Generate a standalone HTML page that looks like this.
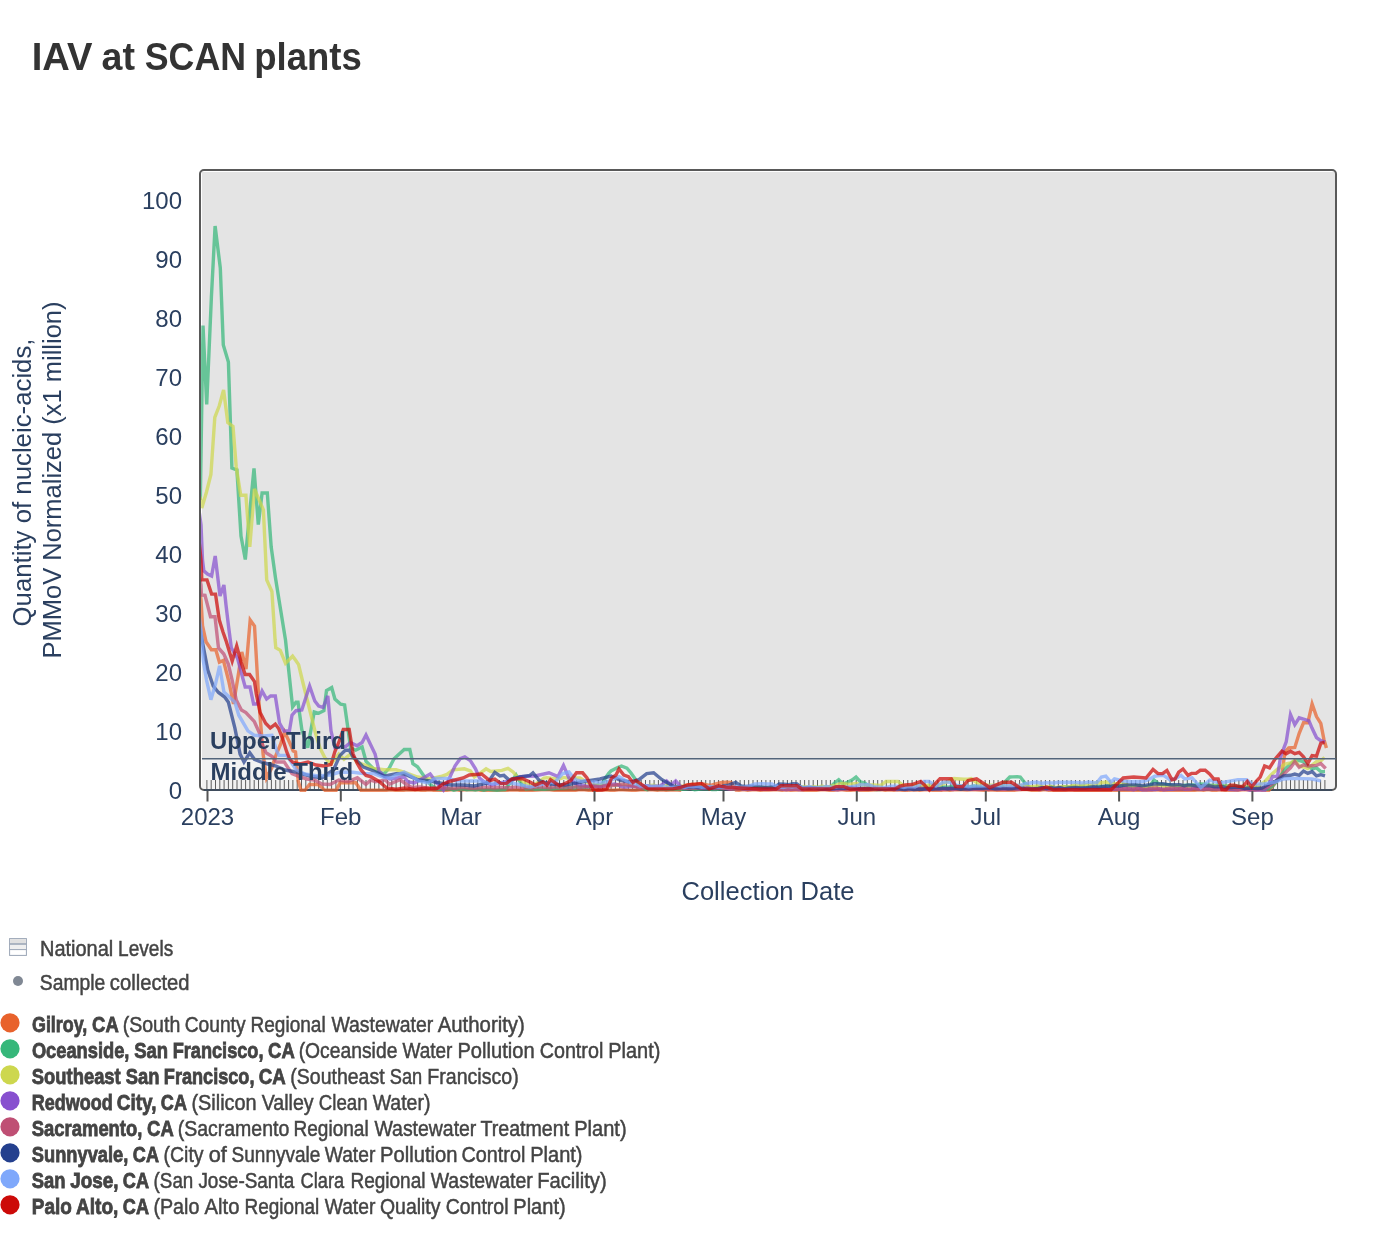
<!DOCTYPE html>
<html lang="en"><head><meta charset="utf-8"><title>IAV at SCAN plants</title>
<style>
html,body{margin:0;padding:0;background:#fff;}
body{width:1376px;height:1234px;overflow:hidden;position:relative;font-family:"Liberation Sans", sans-serif;}
svg{position:absolute;left:0;top:0;display:block;will-change:transform;}
text{font-family:"Liberation Sans", sans-serif;}
.tk{font-size:24px;fill:#2a3f5f;}
.at{font-size:26px;fill:#2a3f5f;}
.an{font-size:24px;font-weight:700;fill:#2a3f5f;}
.lg{font-size:22px;fill:#444;stroke:#444;stroke-width:.5;}
.lb{font-size:22px;font-weight:700;fill:#444;stroke:#444;stroke-width:.8;}
.ttl{font-size:38px;font-weight:700;fill:#333;}
.ln{fill:none;stroke-width:3.4;stroke-opacity:.72;stroke-linejoin:miter;stroke-linecap:butt;}
</style></head><body>
<svg width="1376" height="1234" viewBox="0 0 1376 1234">
<defs><clipPath id="pc"><rect x="201" y="171" width="1135" height="622"/></clipPath></defs>
<text class="ttl" x="31.77" y="69.5" textLength="60.78" lengthAdjust="spacingAndGlyphs">IAV</text>
<text class="ttl" x="101.54" y="69.5" textLength="33.43" lengthAdjust="spacingAndGlyphs">at</text>
<text class="ttl" x="144.76" y="69.5" textLength="101.31" lengthAdjust="spacingAndGlyphs">SCAN</text>
<text class="ttl" x="254.21" y="69.5" textLength="107.58" lengthAdjust="spacingAndGlyphs">plants</text>
<rect x="202" y="172" width="1134" height="618" fill="#e4e4e4"/>
<rect x="202" y="758.7" width="1134" height="31.3" fill="#f2f2f2"/>
<path d="M206.90 780V789.5M211.20 780V789.5M215.50 780V789.5M219.80 780V789.5M224.10 780V789.5M228.40 780V789.5M232.70 780V789.5M237.00 780V789.5M241.30 780V789.5M245.60 780V789.5M249.90 780V789.5M254.20 780V789.5M258.50 780V789.5M262.80 780V789.5M267.10 780V789.5M271.40 780V789.5M275.70 780V789.5M280.00 780V789.5M284.30 780V789.5M288.60 780V789.5M292.90 780V789.5M297.20 780V789.5M301.50 780V789.5M305.80 780V789.5M310.10 780V789.5M314.40 780V789.5M318.70 780V789.5M323.00 780V789.5M327.30 780V789.5M331.60 780V789.5M335.90 780V789.5M340.20 780V789.5M344.50 780V789.5M348.80 780V789.5M353.10 780V789.5M357.40 780V789.5M361.70 780V789.5M366.00 780V789.5M370.30 780V789.5M374.60 780V789.5M378.90 780V789.5M383.20 780V789.5M387.50 780V789.5M391.80 780V789.5M396.10 780V789.5M400.40 780V789.5M404.70 780V789.5M409.00 780V789.5M413.30 780V789.5M417.60 780V789.5M421.90 780V789.5M426.20 780V789.5M430.50 780V789.5M434.80 780V789.5M439.10 780V789.5M443.40 780V789.5M447.70 780V789.5M452.00 780V789.5M456.30 780V789.5M460.60 780V789.5M464.90 780V789.5M469.20 780V789.5M473.50 780V789.5M477.80 780V789.5M482.10 780V789.5M486.40 780V789.5M490.70 780V789.5M495.00 780V789.5M499.30 780V789.5M503.60 780V789.5M507.90 780V789.5M512.20 780V789.5M516.50 780V789.5M520.80 780V789.5M525.10 780V789.5M529.40 780V789.5M533.70 780V789.5M538.00 780V789.5M542.30 780V789.5M546.60 780V789.5M550.90 780V789.5M555.20 780V789.5M559.50 780V789.5M563.80 780V789.5M568.10 780V789.5M572.40 780V789.5M576.70 780V789.5M581.00 780V789.5M585.30 780V789.5M589.60 780V789.5M593.90 780V789.5M598.20 780V789.5M602.50 780V789.5M606.80 780V789.5M611.10 780V789.5M615.40 780V789.5M619.70 780V789.5M624.00 780V789.5M628.30 780V789.5M632.60 780V789.5M636.90 780V789.5M641.20 780V789.5M645.50 780V789.5M649.80 780V789.5M654.10 780V789.5M658.40 780V789.5M662.70 780V789.5M667.00 780V789.5M671.30 780V789.5M675.60 780V789.5M679.90 780V789.5M684.20 780V789.5M688.50 780V789.5M692.80 780V789.5M697.10 780V789.5M701.40 780V789.5M705.70 780V789.5M710.00 780V789.5M714.30 780V789.5M718.60 780V789.5M722.90 780V789.5M727.20 780V789.5M731.50 780V789.5M735.80 780V789.5M740.10 780V789.5M744.40 780V789.5M748.70 780V789.5M753.00 780V789.5M757.30 780V789.5M761.60 780V789.5M765.90 780V789.5M770.20 780V789.5M774.50 780V789.5M778.80 780V789.5M783.10 780V789.5M787.40 780V789.5M791.70 780V789.5M796.00 780V789.5M800.30 780V789.5M804.60 780V789.5M808.90 780V789.5M813.20 780V789.5M817.50 780V789.5M821.80 780V789.5M826.10 780V789.5M830.40 780V789.5M834.70 780V789.5M839.00 780V789.5M843.30 780V789.5M847.60 780V789.5M851.90 780V789.5M856.20 780V789.5M860.50 780V789.5M864.80 780V789.5M869.10 780V789.5M873.40 780V789.5M877.70 780V789.5M882.00 780V789.5M886.30 780V789.5M890.60 780V789.5M894.90 780V789.5M899.20 780V789.5M903.50 780V789.5M907.80 780V789.5M912.10 780V789.5M916.40 780V789.5M920.70 780V789.5M925.00 780V789.5M929.30 780V789.5M933.60 780V789.5M937.90 780V789.5M942.20 780V789.5M946.50 780V789.5M950.80 780V789.5M955.10 780V789.5M959.40 780V789.5M963.70 780V789.5M968.00 780V789.5M972.30 780V789.5M976.60 780V789.5M980.90 780V789.5M985.20 780V789.5M989.50 780V789.5M993.80 780V789.5M998.10 780V789.5M1002.40 780V789.5M1006.70 780V789.5M1011.00 780V789.5M1015.30 780V789.5M1019.60 780V789.5M1023.90 780V789.5M1028.20 780V789.5M1032.50 780V789.5M1036.80 780V789.5M1041.10 780V789.5M1045.40 780V789.5M1049.70 780V789.5M1054.00 780V789.5M1058.30 780V789.5M1062.60 780V789.5M1066.90 780V789.5M1071.20 780V789.5M1075.50 780V789.5M1079.80 780V789.5M1084.10 780V789.5M1088.40 780V789.5M1092.70 780V789.5M1097.00 780V789.5M1101.30 780V789.5M1105.60 780V789.5M1109.90 780V789.5M1114.20 780V789.5M1118.50 780V789.5M1122.80 780V789.5M1127.10 780V789.5M1131.40 780V789.5M1135.70 780V789.5M1140.00 780V789.5M1144.30 780V789.5M1148.60 780V789.5M1152.90 780V789.5M1157.20 780V789.5M1161.50 780V789.5M1165.80 780V789.5M1170.10 780V789.5M1174.40 780V789.5M1178.70 780V789.5M1183.00 780V789.5M1187.30 780V789.5M1191.60 780V789.5M1195.90 780V789.5M1200.20 780V789.5M1204.50 780V789.5M1208.80 780V789.5M1213.10 780V789.5M1217.40 780V789.5M1221.70 780V789.5M1226.00 780V789.5M1230.30 780V789.5M1234.60 780V789.5M1238.90 780V789.5M1243.20 780V789.5M1247.50 780V789.5M1251.80 780V789.5M1256.10 780V789.5M1260.40 780V789.5M1264.70 780V789.5M1269.00 780V789.5M1273.30 780V789.5M1277.60 780V789.5M1281.90 780V789.5M1286.20 780V789.5M1290.50 780V789.5M1294.80 780V789.5M1299.10 780V789.5M1303.40 780V789.5M1307.70 780V789.5M1312.00 780V789.5M1316.30 780V789.5M1320.60 780V789.5M1324.90 780V789.5" stroke="#5e5e5e" stroke-width="1" fill="none"/>
<rect x="200" y="170" width="1136" height="620" rx="4" ry="4" fill="none" stroke="#595959" stroke-width="2"/>
<path d="M204 790H1332" stroke="#3f4c5c" stroke-width="2" fill="none"/>
<g clip-path="url(#pc)">
<polyline class="ln" stroke="#e8622c" points="199.0,585.0 201.0,600.0 202.5,625.6 206.0,641.7 211.4,649.7 215.8,649.7 219.4,662.2 223.4,660.4 228.7,681.0 233.5,704.0 237.8,678.0 241.8,652.0 246.0,669.0 250.2,620.0 254.5,626.0 258.8,700.0 263.1,754.0 266.5,778.0 271.7,768.0 276.0,755.0 280.3,745.0 284.6,732.0 288.9,741.0 293.2,751.0 295.5,752.0 298.2,781.0 301.0,790.2 305.0,790.2 309.5,784.5 318.0,784.5 325.0,790.2 336.2,790.2 340.0,782.7 355.7,782.7 360.9,790.2 365.0,790.2 369.3,790.2 373.6,790.2 377.9,790.2 382.2,790.2 386.5,790.2 390.8,789.8 395.1,790.2 399.4,790.2 403.7,790.2 408.0,789.7 412.3,790.0 416.6,789.7 420.9,790.2 425.2,790.2 429.5,789.7 433.8,790.2 438.1,790.2 442.4,790.2 446.7,790.2 451.0,789.8 455.3,789.6 459.6,790.2 463.9,789.7 468.2,789.8 472.5,789.9 476.8,789.6 481.1,790.2 485.4,790.1 489.7,790.2 494.0,790.2 498.3,790.2 502.6,790.2 506.9,790.2 511.2,790.1 515.5,789.9 519.8,790.2 524.1,790.2 528.4,790.2 532.7,790.2 537.0,790.0 541.3,789.9 545.6,789.9 549.9,789.7 554.2,790.2 558.5,790.1 562.8,790.2 567.1,790.1 571.4,790.2 575.7,790.2 580.0,789.6 584.3,789.9 588.6,790.2 592.9,790.2 597.2,790.2 601.5,790.1 605.8,789.7 610.1,790.2 614.4,790.2 618.7,789.9 623.0,789.7 627.3,790.0 631.6,790.2 635.9,790.2 640.2,789.7 644.5,789.9 648.8,789.7 653.1,789.7 657.4,790.2 661.7,789.8 666.0,790.2 670.3,790.1 674.6,789.8 680.0,790.2 683.2,787.0 686.0,785.0 691.8,784.1 696.1,784.2 700.0,784.0 704.7,784.1 709.0,785.3 712.0,785.0 717.6,783.4 722.0,782.5 726.2,782.2 731.0,782.5 736.0,790.0 739.1,790.2 743.4,789.6 747.7,790.2 752.0,789.8 756.3,789.9 760.0,790.2 764.9,790.0 769.2,790.0 773.5,789.7 777.8,789.7 782.1,790.2 786.4,789.9 790.7,790.2 795.0,790.0 799.3,790.1 803.6,790.2 807.9,790.2 812.2,790.2 816.5,790.2 820.8,789.8 825.1,789.8 829.4,790.2 833.7,790.2 838.0,789.9 842.3,789.8 846.6,790.2 850.9,790.2 855.2,789.8 859.5,790.2 863.8,790.2 868.1,790.2 872.4,790.1 876.7,789.7 881.0,789.6 885.3,790.2 889.6,789.9 893.9,790.2 898.2,789.9 902.5,790.2 906.8,790.2 911.1,790.0 915.4,789.8 919.7,790.2 924.0,789.7 928.3,789.9 932.6,790.2 936.9,790.2 941.2,790.2 945.5,789.9 949.8,790.2 954.1,789.8 958.4,789.6 962.7,789.9 967.0,790.1 971.3,789.7 975.6,789.8 979.9,790.0 984.2,790.2 988.5,789.8 992.8,790.0 997.1,790.2 1001.4,790.2 1005.7,790.2 1010.0,790.2 1014.3,790.2 1018.6,789.8 1022.9,789.6 1027.2,789.6 1031.5,790.2 1035.8,790.2 1040.1,790.2 1044.4,789.6 1048.7,790.2 1053.0,790.2 1057.3,790.2 1061.6,790.0 1065.9,790.2 1070.2,789.7 1074.5,790.2 1078.8,790.2 1083.1,790.2 1087.4,790.2 1091.7,790.2 1096.0,790.2 1100.3,790.2 1104.6,790.0 1108.9,790.2 1113.2,790.2 1117.5,790.2 1121.8,790.1 1126.1,790.2 1130.4,790.2 1134.7,790.2 1139.0,790.2 1143.3,790.1 1147.6,790.2 1151.9,790.2 1156.2,789.7 1160.5,790.2 1164.8,790.2 1169.1,790.2 1173.4,790.2 1177.7,790.1 1182.0,790.2 1186.3,790.2 1190.6,790.1 1194.9,790.2 1199.2,789.7 1203.5,790.2 1207.8,789.6 1212.1,790.2 1216.4,790.2 1220.7,789.9 1225.0,790.2 1229.3,790.2 1233.6,790.2 1237.9,790.2 1242.2,789.9 1246.5,789.6 1250.8,790.0 1255.1,790.2 1259.4,789.8 1262.0,790.2 1265.0,790.2 1269.0,790.2 1272.6,786.4 1277.5,780.0 1281.9,774.0 1285.0,751.8 1288.7,748.0 1294.8,747.5 1299.2,733.3 1303.5,722.8 1307.8,722.8 1312.1,704.0 1316.5,716.6 1320.8,723.4 1323.9,739.4 1326.4,748.0"/>
<polyline class="ln" stroke="#36b77a" points="200.3,500.0 203.0,325.5 206.7,404.5 211.4,297.0 215.1,226.0 220.3,268.0 223.3,345.0 228.4,362.0 231.9,468.0 236.9,470.0 241.0,536.0 245.3,559.5 249.6,514.0 254.0,468.5 258.3,524.5 262.1,493.0 267.3,493.0 271.2,547.0 275.5,578.0 280.0,606.0 285.5,640.0 292.6,707.0 296.0,702.3 298.0,702.3 301.8,729.5 307.7,747.7 314.2,712.0 318.7,713.3 323.9,710.7 326.5,690.6 331.7,687.5 334.9,699.0 340.7,704.2 344.6,704.9 347.9,728.2 350.5,747.7 355.7,750.2 362.1,747.0 366.0,761.3 372.5,767.8 379.0,772.3 384.2,773.6 389.4,767.8 394.0,758.7 404.2,749.5 409.8,749.5 412.9,763.7 417.5,766.8 424.6,777.0 430.7,785.0 437.0,789.0 441.0,789.5 445.3,788.9 449.6,788.7 453.9,790.2 458.2,789.0 462.5,788.9 466.8,789.7 471.1,789.3 475.4,790.1 479.7,789.1 484.0,790.2 488.3,789.2 492.6,789.7 496.9,790.2 501.2,789.8 505.0,789.5 511.0,782.0 516.0,775.0 518.4,779.5 521.0,783.0 526.0,789.0 531.3,788.3 535.6,789.3 539.9,788.7 544.2,789.2 548.5,788.8 552.8,788.9 557.1,788.2 560.0,788.0 565.7,787.9 570.0,787.1 574.3,788.0 578.6,786.8 582.9,787.3 587.2,787.4 591.5,786.7 595.8,785.7 601.0,786.0 605.5,778.0 608.7,773.4 611.0,771.0 617.7,767.5 621.5,766.0 626.9,768.2 631.0,773.0 634.5,778.0 640.0,786.0 645.0,789.0 647.4,789.7 651.7,788.7 656.0,788.8 660.3,789.1 664.6,788.7 668.9,789.2 673.2,789.1 677.5,788.9 681.8,789.3 686.1,789.0 690.4,788.3 694.7,789.8 700.0,789.0 703.3,788.8 707.6,788.7 711.9,789.5 716.2,789.5 720.5,788.7 724.8,788.4 729.1,787.9 733.4,789.1 737.7,787.8 742.0,788.4 746.3,788.0 750.6,787.9 754.9,787.9 760.0,788.0 763.5,787.3 767.8,788.1 772.1,788.5 776.4,788.2 780.7,787.5 785.0,788.3 789.3,787.3 793.6,787.9 800.0,788.0 806.5,787.7 810.8,788.2 815.1,787.5 819.4,787.4 823.7,787.3 830.0,787.0 832.3,785.3 834.5,783.0 838.7,779.7 843.0,784.0 848.0,782.0 852.0,780.0 856.0,777.0 860.5,782.0 865.0,783.0 870.0,788.0 875.0,789.5 879.6,789.6 883.9,789.0 888.2,788.7 892.5,789.4 896.8,788.9 901.1,788.5 905.4,788.1 909.7,789.4 914.0,788.4 918.3,787.9 922.6,787.9 926.9,787.9 931.2,788.8 935.5,787.6 940.0,788.0 944.1,786.9 948.4,787.1 952.7,786.3 957.0,786.1 960.0,786.0 965.6,787.0 969.9,787.0 974.2,786.0 978.5,786.7 982.8,787.7 987.1,786.6 991.4,787.1 995.7,787.8 1000.0,788.0 1005.0,782.0 1009.8,777.0 1012.9,776.9 1017.2,776.6 1020.3,777.0 1025.0,783.0 1030.0,788.0 1034.4,788.2 1038.7,787.3 1043.0,788.4 1047.3,787.9 1051.6,786.9 1055.9,787.6 1060.2,787.7 1064.5,786.7 1068.8,787.3 1073.1,786.5 1077.4,787.6 1081.7,786.3 1086.0,787.3 1090.0,787.0 1094.6,787.4 1098.9,786.3 1103.2,786.6 1107.5,785.8 1111.8,786.0 1116.1,786.7 1120.0,786.0 1124.7,785.2 1129.0,785.8 1133.3,786.2 1137.6,785.5 1141.9,786.5 1146.2,786.6 1150.0,786.0 1154.0,780.0 1159.0,784.0 1163.4,784.6 1167.7,784.6 1172.0,785.3 1175.0,786.0 1180.6,786.1 1184.9,785.2 1189.2,785.2 1193.5,785.0 1197.8,784.9 1200.0,784.0 1206.4,784.3 1210.7,785.3 1215.0,785.4 1219.3,785.1 1223.6,785.8 1230.0,786.0 1236.5,785.9 1240.8,786.8 1245.1,787.0 1249.4,787.8 1253.7,789.0 1258.0,788.1 1262.0,789.0 1268.0,789.0 1272.6,786.0 1277.0,781.0 1281.2,775.3 1286.2,767.9 1290.5,764.0 1294.8,760.5 1299.2,760.5 1303.5,761.7 1307.8,766.0 1312.1,769.0 1316.5,767.9 1320.8,771.6 1325.0,771.6"/>
<polyline class="ln" stroke="#cdd74e" points="199.0,495.0 200.5,499.0 201.8,508.0 206.5,492.0 210.9,474.5 214.8,417.4 219.3,405.8 223.6,390.0 227.8,422.6 233.0,426.5 236.2,466.7 240.7,495.3 245.9,495.3 249.8,546.8 254.4,489.0 258.7,499.0 263.4,509.8 266.7,579.9 271.9,591.5 275.1,640.0 275.8,647.8 280.3,650.4 285.5,663.3 292.6,656.2 296.0,660.8 298.6,664.6 303.0,683.0 307.5,701.0 311.5,717.0 315.5,733.4 320.0,748.0 325.0,758.0 331.0,764.0 338.8,754.0 344.0,759.3 350.5,754.1 357.0,762.0 363.4,764.5 373.8,768.4 384.2,769.7 396.0,769.8 404.0,772.0 417.5,777.0 430.0,779.0 440.9,776.5 447.0,774.4 453.0,769.8 464.3,768.8 470.4,770.9 474.4,777.0 480.5,772.9 486.1,768.8 490.7,771.4 501.9,770.4 508.0,768.3 513.1,771.9 518.2,778.0 530.0,786.0 534.0,785.0 538.3,782.2 544.0,778.0 546.9,777.6 551.2,778.3 555.5,778.7 559.8,778.7 564.1,777.4 568.4,778.3 572.7,778.2 577.0,778.0 580.0,778.0 585.6,781.4 590.0,784.0 594.2,785.0 598.5,784.6 602.8,784.2 607.1,784.3 611.4,784.8 615.0,785.0 620.0,785.3 624.3,785.7 628.6,785.3 632.9,786.2 637.2,786.5 641.5,785.9 647.0,786.0 650.1,785.4 654.4,785.3 658.7,787.0 663.0,785.8 667.3,785.8 671.6,787.1 675.9,786.9 680.2,785.8 683.0,786.5 688.8,786.2 693.1,786.4 697.4,786.0 701.7,787.0 706.0,786.8 710.3,787.0 714.6,786.8 720.0,787.5 723.2,786.7 727.5,788.2 731.8,788.0 736.1,787.7 740.4,787.0 744.7,787.1 749.0,787.1 753.3,787.4 757.6,787.0 761.9,787.4 766.2,787.4 770.5,787.4 774.8,788.2 780.0,788.0 783.4,787.9 787.7,787.5 792.0,787.7 796.3,788.0 800.6,787.0 804.9,786.5 809.2,787.1 813.5,786.8 817.8,787.4 822.1,786.0 826.4,787.3 830.0,786.5 835.0,785.3 839.3,784.1 842.0,783.5 847.9,784.2 852.2,783.9 856.0,783.5 860.8,784.7 866.0,786.0 869.4,785.0 873.7,785.0 880.0,785.5 882.3,784.4 886.0,781.5 890.9,781.4 895.2,781.5 898.0,781.5 904.0,786.0 908.1,786.7 912.4,785.7 916.7,784.8 921.0,785.3 925.3,786.0 929.6,785.0 933.9,784.5 940.0,785.0 942.5,784.2 946.8,782.1 951.1,779.5 954.0,778.5 959.7,779.0 964.0,779.3 968.3,779.1 971.0,778.5 976.9,782.7 980.0,784.0 985.5,785.0 989.8,785.1 994.1,785.1 998.4,785.2 1002.7,786.1 1007.0,786.0 1010.0,786.0 1015.6,785.6 1019.9,785.5 1024.2,785.9 1028.5,786.5 1032.8,786.6 1037.1,786.0 1041.4,786.1 1045.7,787.5 1050.0,786.0 1054.3,787.7 1060.0,787.0 1062.9,786.8 1067.2,787.2 1071.5,786.2 1075.8,784.5 1080.1,785.8 1084.4,784.4 1088.7,784.9 1093.0,784.3 1097.3,782.6 1100.0,783.0 1105.9,782.1 1110.0,783.0 1114.5,784.0 1118.8,783.5 1123.1,783.8 1127.4,784.8 1131.7,786.1 1136.0,786.5 1140.0,786.5 1144.6,787.3 1148.9,787.0 1153.2,787.1 1157.5,785.6 1161.8,785.6 1166.1,787.2 1170.4,786.7 1174.7,786.2 1179.0,785.8 1183.3,786.2 1187.6,786.2 1191.9,786.5 1196.2,786.4 1200.0,786.5 1204.8,785.8 1209.1,786.1 1213.4,786.1 1217.7,786.1 1222.0,786.8 1226.3,786.3 1230.6,787.6 1234.9,787.3 1239.2,787.2 1243.5,787.6 1247.8,786.9 1252.0,787.5 1255.0,787.0 1260.0,785.0 1265.0,781.5 1271.0,775.0 1277.5,769.0 1285.0,764.2 1290.5,763.0 1294.8,760.5 1299.2,766.0 1303.5,767.0 1307.8,768.5 1312.1,765.0 1316.5,761.7 1320.8,761.0 1324.5,757.4"/>
<polyline class="ln" stroke="#8750cf" points="199.0,510.0 201.0,525.0 202.5,560.0 203.8,570.8 207.5,574.0 211.6,576.0 215.2,556.0 220.0,596.0 223.9,585.0 226.0,605.0 228.5,626.0 231.3,647.8 237.6,658.5 243.0,679.0 245.2,687.0 250.0,687.0 253.6,704.0 257.2,704.0 262.1,691.0 266.6,699.0 270.6,696.0 275.3,696.0 279.5,723.0 284.0,731.0 289.4,731.0 292.0,715.2 296.0,710.7 301.8,710.0 309.6,686.0 314.8,701.0 318.7,706.1 323.2,707.4 327.8,696.0 331.0,730.8 334.9,747.6 345.9,746.4 350.5,742.5 357.0,745.7 362.1,742.5 366.0,735.0 375.1,754.1 379.0,771.0 384.2,776.2 390.0,779.0 397.0,778.0 404.0,777.0 408.3,782.0 414.4,783.0 421.5,779.0 430.2,774.0 436.8,783.0 443.4,790.0 449.0,779.0 455.1,765.8 460.2,758.7 464.8,757.0 470.4,760.7 475.5,768.8 479.5,778.0 485.6,783.0 491.7,785.0 500.0,783.0 510.0,781.0 520.0,776.6 535.0,776.0 549.0,772.8 558.0,776.6 563.5,765.5 568.9,778.0 575.0,783.0 579.0,785.0 583.3,785.5 587.6,786.4 591.9,785.7 596.2,786.2 600.0,787.0 604.8,785.4 609.1,784.4 615.0,784.0 617.7,784.8 622.0,786.9 625.0,787.0 630.6,786.6 634.9,786.6 639.2,786.9 643.5,786.2 647.8,785.7 652.1,786.8 656.4,786.3 660.0,786.0 666.6,781.0 671.0,785.0 675.7,781.0 681.0,787.0 686.5,787.9 690.8,786.5 695.1,787.2 699.4,787.4 703.7,788.2 708.0,787.2 712.3,787.4 716.6,787.5 720.9,787.3 725.2,788.4 729.5,788.7 733.8,788.2 738.1,787.7 742.4,788.9 746.7,789.0 751.0,789.0 755.3,788.6 760.0,789.0 763.9,789.2 768.2,789.1 772.5,789.1 776.8,788.6 781.1,788.9 785.4,789.5 789.7,789.3 794.0,788.8 798.3,789.5 802.6,789.5 806.9,788.3 811.2,788.5 815.5,788.6 819.8,788.2 824.1,789.4 828.4,789.2 832.7,789.1 837.0,789.8 841.3,788.8 845.6,788.5 849.9,788.4 854.2,788.7 858.5,789.5 862.8,789.2 867.1,788.3 871.4,788.9 875.7,788.3 880.0,789.2 884.3,788.4 888.6,788.5 892.9,789.2 897.2,789.5 900.0,789.0 905.8,788.6 910.1,789.2 914.4,788.6 918.7,788.1 923.0,788.5 927.3,789.2 931.6,789.0 935.9,788.3 940.2,789.3 944.5,789.3 948.8,788.4 953.1,789.5 957.4,788.3 961.7,788.0 966.0,788.7 970.3,789.2 974.6,788.8 978.9,788.7 983.2,788.6 987.5,788.2 991.8,788.2 996.1,788.4 1000.0,788.5 1004.7,789.2 1009.0,787.9 1013.3,788.2 1017.6,789.3 1021.9,788.9 1026.2,787.9 1030.5,788.6 1034.8,788.9 1039.1,789.4 1043.4,788.1 1047.7,789.4 1052.0,789.2 1056.3,788.4 1060.6,788.9 1064.9,789.3 1069.2,788.4 1073.5,789.2 1077.8,789.0 1082.1,788.2 1086.4,788.6 1090.7,788.8 1095.0,788.4 1100.0,789.0 1103.6,788.6 1107.9,788.6 1112.2,789.2 1116.5,789.0 1120.8,788.7 1125.1,788.7 1129.4,789.0 1133.7,789.7 1138.0,788.3 1142.3,789.7 1146.6,789.7 1150.9,789.3 1155.2,789.5 1159.5,788.8 1163.8,789.7 1168.1,789.4 1172.4,789.3 1176.7,788.9 1181.0,788.6 1185.3,789.3 1189.6,789.4 1193.9,788.2 1200.0,789.0 1202.5,789.1 1206.8,788.7 1211.1,788.6 1215.4,788.8 1219.7,788.6 1224.0,788.8 1228.3,789.3 1232.6,789.6 1236.9,789.9 1241.2,789.4 1245.5,789.2 1249.8,790.2 1254.1,790.1 1258.0,790.0 1260.0,790.0 1265.0,790.0 1269.0,784.0 1272.6,776.5 1277.5,776.5 1280.6,756.7 1286.2,741.9 1290.5,714.5 1294.8,724.6 1299.2,717.8 1303.5,719.0 1309.0,720.9 1312.1,728.3 1316.5,737.6 1320.8,740.7 1325.1,741.9"/>
<polyline class="ln" stroke="#bf4f74" points="199.0,575.0 201.0,585.0 201.4,595.0 205.0,595.3 210.5,616.7 215.0,616.7 218.5,648.0 223.8,654.0 228.3,664.0 231.9,679.0 236.3,700.0 241.4,710.0 245.9,712.6 254.4,721.7 259.6,733.4 262.1,743.8 266.0,752.8 272.5,756.7 276.4,762.0 284.2,762.0 292.0,773.6 300.0,777.0 307.0,779.0 314.2,780.0 322.0,784.0 330.0,784.5 338.8,780.0 348.0,781.5 357.4,777.8 365.9,784.3 370.8,780.2 375.7,781.8 385.4,779.8 389.4,784.3 400.0,779.8 407.3,785.0 412.0,787.5 420.0,787.0 430.0,788.5 434.0,788.0 438.3,788.6 442.6,787.5 446.9,788.3 451.2,788.4 455.5,788.2 459.8,787.6 464.1,787.6 468.4,788.1 472.7,788.4 477.0,788.0 481.3,787.8 485.6,787.5 489.9,787.5 494.2,788.0 498.5,787.5 502.8,787.6 507.1,787.8 511.4,787.7 515.7,786.9 520.0,787.5 524.3,787.8 528.6,787.5 532.9,787.9 537.2,786.8 541.5,787.0 545.8,787.3 550.1,787.7 554.4,786.9 558.7,787.6 563.0,787.1 567.3,786.9 571.6,787.6 575.9,786.6 580.2,787.7 584.5,786.8 588.8,786.9 593.1,786.6 597.4,787.0 600.0,787.0 606.0,785.9 610.3,785.8 614.6,785.2 618.9,784.5 625.0,784.0 627.5,784.9 631.8,785.7 636.1,786.9 640.0,788.0 644.7,787.5 649.0,788.5 653.3,788.6 657.6,787.8 661.9,788.6 666.2,788.4 670.5,787.9 674.8,787.9 679.1,787.7 683.4,788.2 687.7,788.2 692.0,788.3 696.3,788.3 700.6,788.4 704.9,787.9 709.2,788.0 713.5,788.5 717.8,788.4 722.1,788.1 726.4,788.2 730.7,789.2 735.0,789.0 739.3,788.9 743.6,788.4 747.9,788.6 752.2,789.0 756.5,788.8 760.8,789.0 765.1,788.1 769.4,789.1 773.7,788.4 778.0,788.6 782.3,788.9 786.6,789.5 790.9,788.8 795.2,789.2 800.0,789.0 803.8,789.6 808.1,788.6 812.4,789.1 816.7,789.3 821.0,789.3 825.3,788.9 829.6,789.2 833.9,788.3 838.2,789.7 842.5,789.1 846.8,789.1 851.1,788.7 855.4,789.0 859.7,789.2 864.0,788.9 868.3,788.5 872.6,788.6 876.9,789.5 881.2,788.6 885.5,789.0 889.8,789.3 894.1,788.6 898.4,789.4 902.7,789.0 907.0,789.6 911.3,788.6 915.6,788.9 919.9,788.8 924.2,788.7 928.5,788.9 932.8,788.9 937.1,788.9 941.4,789.5 945.7,788.8 950.0,788.4 954.3,789.4 958.6,788.9 962.9,788.3 967.2,789.4 971.5,789.3 975.8,789.2 980.1,789.4 984.4,788.7 988.7,789.5 993.0,788.8 997.3,789.5 1000.0,789.0 1005.9,789.1 1010.2,788.9 1014.5,789.3 1018.8,789.2 1023.1,788.9 1027.4,788.3 1031.7,788.7 1036.0,789.1 1040.3,788.2 1044.6,788.7 1048.9,789.4 1053.2,789.1 1057.5,788.5 1061.8,788.3 1066.1,788.9 1070.4,788.9 1074.7,788.5 1079.0,788.8 1083.3,789.4 1087.6,788.9 1091.9,788.8 1096.2,788.1 1100.5,788.6 1104.8,788.0 1109.1,789.3 1113.4,788.6 1117.7,788.7 1122.0,788.8 1126.3,787.9 1130.6,789.0 1134.9,788.8 1139.2,787.9 1143.5,789.1 1147.8,789.0 1150.0,788.5 1156.4,788.0 1160.7,789.1 1165.0,789.0 1169.3,788.2 1173.6,788.0 1177.9,788.9 1182.2,788.0 1186.5,788.7 1190.8,789.1 1195.1,788.6 1199.4,788.5 1203.7,788.6 1208.0,788.2 1212.3,788.2 1216.6,788.9 1220.9,789.3 1225.2,789.5 1229.5,788.3 1233.8,788.6 1238.1,789.4 1242.4,788.6 1246.7,789.3 1251.0,789.6 1256.0,789.0 1260.0,789.0 1268.0,787.0 1275.0,782.0 1281.2,776.5 1286.0,772.0 1290.5,767.9 1294.8,761.7 1299.2,767.3 1303.5,764.8 1307.8,766.0 1316.5,765.4 1320.8,763.5 1325.7,768.5"/>
<polyline class="ln" stroke="#24408e" points="199.0,625.0 201.0,634.6 207.8,670.0 213.2,686.0 218.5,692.5 224.7,697.0 228.4,702.3 234.9,728.2 240.1,754.1 244.0,762.0 249.8,752.8 254.4,759.3 260.9,762.0 268.0,764.0 276.0,766.0 285.0,770.0 296.0,772.0 310.0,776.0 322.0,778.0 333.6,769.7 340.0,755.4 345.3,750.2 349.2,750.2 353.0,756.7 363.4,767.1 373.8,771.0 384.2,776.2 396.0,773.6 404.0,774.0 418.5,780.0 430.0,781.0 440.0,783.0 451.0,785.0 463.0,785.0 474.4,786.0 487.7,783.0 494.8,772.4 499.9,776.0 503.9,775.4 509.0,780.0 520.0,777.0 530.0,775.4 533.0,772.8 539.8,781.0 550.0,784.0 565.0,785.0 587.0,781.0 600.0,779.0 611.0,776.0 620.0,780.0 630.0,782.0 639.0,779.7 646.7,773.6 653.6,772.8 662.0,779.7 672.7,785.8 677.0,787.0 681.3,787.0 685.6,786.7 689.9,787.1 694.2,786.9 698.5,787.8 702.8,787.4 707.1,787.7 711.4,788.0 715.7,787.4 720.0,787.5 724.3,785.6 728.6,785.2 731.0,784.0 735.7,782.3 741.0,786.0 745.8,786.5 750.1,786.2 754.4,786.4 758.7,786.6 763.0,787.1 767.3,787.4 771.6,786.7 775.0,787.0 779.0,784.0 784.5,784.3 788.8,784.7 793.1,783.6 797.0,784.0 802.0,788.0 806.0,787.8 810.3,787.8 814.6,787.7 818.9,788.8 823.2,788.9 827.5,788.8 831.8,788.7 836.1,788.2 840.4,788.1 844.7,788.3 849.0,787.8 853.3,788.0 857.6,788.5 861.9,788.5 866.2,788.9 870.5,788.8 874.8,788.2 879.1,789.3 883.4,788.7 887.7,788.8 892.0,788.7 896.3,788.8 900.0,789.0 904.9,789.6 909.2,788.5 913.5,789.5 917.8,789.3 922.1,789.3 926.4,788.6 930.7,789.4 935.0,788.9 939.3,788.7 943.6,788.1 947.9,788.8 952.2,788.3 956.5,788.4 960.8,789.2 965.1,788.5 969.4,789.1 973.7,788.4 978.0,788.1 982.3,788.4 986.6,788.1 990.9,788.1 995.2,788.8 1000.0,788.5 1003.8,788.0 1008.1,788.8 1012.4,788.5 1016.7,787.8 1021.0,787.8 1025.3,788.6 1029.6,788.9 1033.9,788.7 1038.2,788.4 1042.5,787.6 1046.8,788.5 1051.1,787.6 1055.4,788.5 1059.7,787.6 1064.0,788.8 1068.3,788.0 1072.6,787.6 1076.9,787.5 1080.0,788.0 1085.5,788.0 1089.8,787.2 1094.1,786.7 1098.4,787.4 1102.7,786.4 1107.0,786.2 1111.3,786.0 1115.6,785.7 1120.0,786.0 1124.2,785.2 1128.5,784.9 1132.8,784.8 1137.1,785.0 1141.4,785.5 1145.7,785.2 1150.0,784.6 1154.3,783.8 1160.0,784.0 1162.9,783.8 1167.2,784.4 1171.5,784.7 1175.8,784.7 1180.1,784.6 1184.4,785.8 1188.7,784.9 1193.0,785.4 1197.3,786.1 1200.0,786.0 1205.9,785.6 1210.2,785.9 1214.5,786.9 1218.8,786.8 1223.1,786.8 1227.4,787.7 1231.7,787.6 1236.0,787.1 1240.3,787.3 1244.6,788.5 1248.9,788.0 1253.2,788.4 1258.0,788.5 1262.0,788.0 1269.0,784.0 1275.0,781.5 1283.7,776.0 1290.5,775.3 1294.8,774.0 1299.2,775.3 1303.5,771.0 1307.8,773.4 1312.1,771.6 1316.5,775.9 1320.8,774.7 1325.0,775.9"/>
<polyline class="ln" stroke="#7fa8fb" points="199.0,615.0 201.0,630.0 203.3,661.0 206.5,680.0 210.9,699.7 215.5,684.0 219.6,665.8 223.9,692.0 234.9,702.3 238.8,715.2 247.9,730.8 254.4,735.3 263.4,736.0 271.9,735.3 276.4,750.2 279.0,755.4 286.8,755.4 296.0,769.7 305.0,774.0 318.0,776.0 330.0,775.0 340.0,772.0 353.0,772.3 363.4,773.6 373.8,773.6 384.2,777.5 391.0,778.0 396.0,775.0 404.2,772.0 411.0,776.0 418.5,781.0 428.0,783.0 434.8,778.5 449.0,778.5 456.0,781.0 479.5,781.0 492.0,783.5 512.0,783.0 530.0,787.0 534.0,786.0 538.3,784.9 542.6,784.0 546.9,784.0 551.2,782.2 555.0,782.0 559.8,776.8 562.7,773.6 568.9,772.0 572.7,776.5 576.0,780.0 581.3,781.2 585.6,780.5 589.9,782.4 594.2,781.8 600.0,783.0 602.8,782.3 607.1,781.7 612.0,780.0 615.7,778.0 619.0,776.6 626.0,781.0 628.6,782.0 632.9,783.1 637.2,784.6 640.0,786.0 645.8,785.7 650.1,786.3 654.4,786.3 658.7,786.8 663.0,786.0 667.3,787.2 671.6,787.5 675.9,787.2 680.0,787.0 684.5,787.5 688.8,786.4 693.1,786.9 697.4,786.4 701.7,787.4 706.0,787.1 710.3,786.4 714.6,786.9 718.9,787.4 723.2,787.1 727.5,786.5 731.8,787.6 736.1,786.4 740.4,787.5 745.0,787.0 749.0,786.2 755.0,784.0 757.6,784.0 761.9,783.6 766.2,784.0 772.0,784.0 774.8,785.4 780.0,787.0 783.4,787.6 787.7,786.3 792.0,787.0 796.3,786.4 800.6,786.8 804.9,787.7 809.2,786.5 813.5,787.7 817.8,787.6 822.1,787.3 826.4,786.4 830.7,787.0 835.0,787.3 839.3,786.4 843.6,786.7 850.0,787.0 856.5,786.0 860.0,784.5 865.1,784.9 868.0,784.5 875.0,787.0 878.0,787.0 882.3,787.4 886.6,787.4 890.9,786.3 895.2,786.3 899.5,786.4 903.8,787.6 908.1,786.5 912.4,786.8 915.0,787.0 921.0,783.9 924.0,781.5 929.0,781.5 936.0,786.0 943.0,782.5 946.8,781.8 950.0,782.5 955.4,784.5 958.0,786.0 964.0,785.8 968.3,786.7 972.6,786.3 976.9,786.1 981.2,786.0 985.5,785.7 989.8,786.5 994.1,785.4 1000.0,786.0 1002.7,785.6 1007.0,785.5 1011.3,785.7 1015.6,785.2 1020.0,785.5 1024.2,783.8 1030.0,783.0 1032.8,782.5 1037.1,782.3 1041.4,783.4 1045.7,782.8 1050.0,782.9 1054.3,783.0 1058.6,782.1 1062.0,782.5 1067.2,782.3 1071.5,782.4 1075.8,782.5 1080.1,782.8 1084.4,782.9 1088.7,782.1 1093.0,783.0 1097.0,782.5 1101.4,777.0 1105.8,776.2 1111.0,782.3 1114.5,778.8 1118.8,779.8 1122.0,781.0 1127.4,781.4 1131.7,781.7 1136.0,781.4 1140.3,781.7 1145.0,781.0 1148.9,779.4 1154.7,776.2 1157.5,775.9 1163.4,775.3 1166.1,777.1 1170.0,780.0 1175.0,779.0 1181.0,775.3 1184.8,779.0 1192.0,777.8 1200.9,787.7 1209.6,780.2 1220.0,783.0 1238.0,779.6 1246.6,779.6 1252.0,784.0 1264.0,784.0 1275.0,782.0 1283.7,779.0 1293.6,778.4 1312.1,779.0 1320.8,780.9"/>
<polyline class="ln" stroke="#cc0a08" points="199.0,540.0 201.0,560.0 201.8,579.9 207.0,579.9 211.6,594.1 215.5,594.1 219.3,620.0 223.0,632.0 226.0,640.6 232.2,661.0 236.7,646.0 241.0,662.0 245.2,674.5 249.6,674.5 254.5,681.6 256.3,694.0 260.1,712.5 265.6,723.3 270.2,728.0 275.3,724.1 278.8,728.8 282.7,738.9 286.6,751.4 289.7,759.1 292.8,762.3 300.0,764.0 308.0,762.0 316.0,765.0 324.0,766.0 331.0,764.5 334.9,751.5 339.0,742.0 343.3,729.5 349.2,729.5 353.1,754.1 357.0,763.0 360.9,769.7 366.0,775.5 371.2,776.8 379.0,781.4 386.8,788.0 396.0,789.3 405.0,788.0 415.0,789.5 425.0,788.2 436.8,788.5 442.9,784.0 451.0,781.0 463.2,778.0 469.3,775.0 481.6,774.0 489.7,780.5 494.8,779.0 500.9,783.6 506.0,783.6 512.0,779.0 522.2,778.5 530.0,782.0 535.3,785.0 543.0,782.0 547.0,785.0 550.5,779.7 559.7,785.8 570.4,781.0 576.5,772.8 582.6,772.8 587.0,778.0 593.3,790.0 602.0,790.0 607.0,788.9 611.6,778.0 616.0,775.0 619.0,769.0 623.8,775.0 628.4,776.6 633.0,782.7 636.0,780.5 648.0,788.9 672.7,788.9 680.0,787.5 688.0,785.0 695.6,784.3 701.7,783.5 709.3,788.9 718.5,785.8 726.0,787.0 740.0,788.0 760.0,789.0 776.0,789.0 781.0,785.8 797.0,785.8 802.0,789.0 830.0,789.0 836.0,786.6 844.0,786.6 850.0,789.0 895.0,789.0 900.0,786.0 905.0,785.0 912.0,784.5 920.7,781.4 929.4,790.0 934.0,785.0 940.0,778.8 951.3,778.8 955.7,786.6 962.7,786.6 968.0,780.5 976.6,778.8 989.7,787.5 1002.8,782.3 1011.5,782.3 1022.0,789.3 1039.5,789.3 1046.5,787.0 1053.4,789.8 1111.0,789.8 1117.0,784.0 1123.2,778.0 1133.7,777.0 1146.0,778.0 1153.0,769.5 1158.0,773.6 1162.5,773.6 1166.9,770.5 1172.0,779.7 1175.0,779.0 1178.7,772.2 1183.0,769.0 1188.0,775.3 1191.6,773.4 1196.0,773.4 1200.3,770.3 1205.2,770.3 1209.6,774.0 1213.9,779.0 1218.2,779.0 1222.0,789.5 1226.2,789.5 1230.0,785.2 1234.3,785.2 1238.6,786.4 1243.0,786.4 1247.3,781.5 1251.6,787.0 1256.0,781.5 1260.2,777.1 1264.6,766.0 1269.5,767.9 1275.0,759.2 1281.9,751.2 1286.2,753.7 1290.5,751.2 1294.8,753.7 1299.2,752.4 1303.5,756.7 1307.8,763.5 1312.1,755.5 1316.5,756.1 1320.8,743.2 1324.5,742.5"/>
</g>
<path d="M202 758.7H1336" stroke="#52647a" stroke-width="1.4" fill="none"/>
<text class="an" x="210" y="749.3">Upper Third</text>
<text class="an" x="210.6" y="779.5">Middle Third</text>
<path d="M207.50 791V801.5M340.80 791V801.5M461.20 791V801.5M594.50 791V801.5M723.50 791V801.5M856.80 791V801.5M985.80 791V801.5M1119.10 791V801.5M1252.40 791V801.5" stroke="#555" stroke-width="2" fill="none"/>
<text class="tk" x="207.5" y="825" text-anchor="middle">2023</text>
<text class="tk" x="340.8" y="825" text-anchor="middle">Feb</text>
<text class="tk" x="461.2" y="825" text-anchor="middle">Mar</text>
<text class="tk" x="594.5" y="825" text-anchor="middle">Apr</text>
<text class="tk" x="723.5" y="825" text-anchor="middle">May</text>
<text class="tk" x="856.8" y="825" text-anchor="middle">Jun</text>
<text class="tk" x="985.8" y="825" text-anchor="middle">Jul</text>
<text class="tk" x="1119.1" y="825" text-anchor="middle">Aug</text>
<text class="tk" x="1252.4" y="825" text-anchor="middle">Sep</text>
<text class="tk" x="182" y="798.8" text-anchor="end">0</text>
<text class="tk" x="182" y="739.8" text-anchor="end">10</text>
<text class="tk" x="182" y="680.8" text-anchor="end">20</text>
<text class="tk" x="182" y="621.8" text-anchor="end">30</text>
<text class="tk" x="182" y="562.8" text-anchor="end">40</text>
<text class="tk" x="182" y="503.8" text-anchor="end">50</text>
<text class="tk" x="182" y="444.8" text-anchor="end">60</text>
<text class="tk" x="182" y="385.8" text-anchor="end">70</text>
<text class="tk" x="182" y="326.8" text-anchor="end">80</text>
<text class="tk" x="182" y="267.8" text-anchor="end">90</text>
<text class="tk" x="182" y="208.8" text-anchor="end">100</text>
<text class="at" x="768" y="900" text-anchor="middle" textLength="173" lengthAdjust="spacingAndGlyphs">Collection Date</text>
<text class="at" transform="translate(31,482.5) rotate(-90)" text-anchor="middle" textLength="288" lengthAdjust="spacingAndGlyphs">Quantity of nucleic-acids,</text>
<text class="at" transform="translate(61,480) rotate(-90)" text-anchor="middle" textLength="357" lengthAdjust="spacingAndGlyphs">PMMoV Normalized (x1 million)</text>
<rect x="9.6" y="938.6" width="16.8" height="16.8" fill="#fff" stroke="#9aa5b5" stroke-width="1"/>
<rect x="10.1" y="939.1" width="15.8" height="4.5" fill="#e0e0e0"/>
<rect x="10.1" y="944.6" width="15.8" height="4.6" fill="#efefef"/>
<path d="M9.6 944H26.4" stroke="#9aa5b5" stroke-width="1.6" fill="none"/>
<path d="M9.6 949.6H26.4" stroke="#9aa5b5" stroke-width="1" fill="none"/>
<circle cx="18" cy="981" r="5" fill="#808894"/>
<circle cx="10" cy="1022.8" r="9.6" fill="#e8622c"/>
<circle cx="10" cy="1048.8" r="9.6" fill="#36b77a"/>
<circle cx="10" cy="1074.8" r="9.6" fill="#cdd74e"/>
<circle cx="10" cy="1100.8" r="9.6" fill="#8750cf"/>
<circle cx="10" cy="1126.8" r="9.6" fill="#bf4f74"/>
<circle cx="10" cy="1152.8" r="9.6" fill="#24408e"/>
<circle cx="10" cy="1178.8" r="9.6" fill="#7fa8fb"/>
<circle cx="10" cy="1204.8" r="9.6" fill="#cc0a08"/>
<text class="lg" x="39.96" y="955.6" textLength="73.28" lengthAdjust="spacingAndGlyphs">National</text>
<text class="lg" x="118.12" y="955.6" textLength="55.07" lengthAdjust="spacingAndGlyphs">Levels</text>
<text class="lg" x="39.84" y="990.0" textLength="65.32" lengthAdjust="spacingAndGlyphs">Sample</text>
<text class="lg" x="109.85" y="990.0" textLength="79.73" lengthAdjust="spacingAndGlyphs">collected</text>
<text class="lb" x="31.99" y="1031.5" textLength="55.33" lengthAdjust="spacingAndGlyphs">Gilroy,</text>
<text class="lb" x="92.07" y="1031.5" textLength="26.64" lengthAdjust="spacingAndGlyphs">CA</text>
<text class="lg" x="122.66" y="1031.5" textLength="57.64" lengthAdjust="spacingAndGlyphs">(South</text>
<text class="lg" x="184.66" y="1031.5" textLength="60.86" lengthAdjust="spacingAndGlyphs">County</text>
<text class="lg" x="250.51" y="1031.5" textLength="75.15" lengthAdjust="spacingAndGlyphs">Regional</text>
<text class="lg" x="331.46" y="1031.5" textLength="101.81" lengthAdjust="spacingAndGlyphs">Wastewater</text>
<text class="lg" x="437.74" y="1031.5" textLength="87.08" lengthAdjust="spacingAndGlyphs">Authority)</text>
<text class="lb" x="31.89" y="1057.5" textLength="97.56" lengthAdjust="spacingAndGlyphs">Oceanside,</text>
<text class="lb" x="134.18" y="1057.5" textLength="33.91" lengthAdjust="spacingAndGlyphs">San</text>
<text class="lb" x="172.70" y="1057.5" textLength="90.77" lengthAdjust="spacingAndGlyphs">Francisco,</text>
<text class="lb" x="268.07" y="1057.5" textLength="26.64" lengthAdjust="spacingAndGlyphs">CA</text>
<text class="lg" x="298.70" y="1057.5" textLength="98.69" lengthAdjust="spacingAndGlyphs">(Oceanside</text>
<text class="lg" x="402.48" y="1057.5" textLength="49.92" lengthAdjust="spacingAndGlyphs">Water</text>
<text class="lg" x="457.43" y="1057.5" textLength="77.18" lengthAdjust="spacingAndGlyphs">Pollution</text>
<text class="lg" x="539.70" y="1057.5" textLength="63.58" lengthAdjust="spacingAndGlyphs">Control</text>
<text class="lg" x="608.23" y="1057.5" textLength="52.10" lengthAdjust="spacingAndGlyphs">Plant)</text>
<text class="lb" x="31.86" y="1083.5" textLength="88.85" lengthAdjust="spacingAndGlyphs">Southeast</text>
<text class="lb" x="125.87" y="1083.5" textLength="33.68" lengthAdjust="spacingAndGlyphs">San</text>
<text class="lb" x="163.86" y="1083.5" textLength="90.58" lengthAdjust="spacingAndGlyphs">Francisco,</text>
<text class="lb" x="258.87" y="1083.5" textLength="26.93" lengthAdjust="spacingAndGlyphs">CA</text>
<text class="lg" x="290.36" y="1083.5" textLength="94.20" lengthAdjust="spacingAndGlyphs">(Southeast</text>
<text class="lg" x="389.84" y="1083.5" textLength="32.44" lengthAdjust="spacingAndGlyphs">San</text>
<text class="lg" x="427.31" y="1083.5" textLength="91.40" lengthAdjust="spacingAndGlyphs">Francisco)</text>
<text class="lb" x="31.70" y="1109.5" textLength="81.06" lengthAdjust="spacingAndGlyphs">Redwood</text>
<text class="lb" x="116.84" y="1109.5" textLength="39.58" lengthAdjust="spacingAndGlyphs">City,</text>
<text class="lb" x="160.86" y="1109.5" textLength="26.10" lengthAdjust="spacingAndGlyphs">CA</text>
<text class="lg" x="191.47" y="1109.5" textLength="65.15" lengthAdjust="spacingAndGlyphs">(Silicon</text>
<text class="lg" x="261.70" y="1109.5" textLength="51.90" lengthAdjust="spacingAndGlyphs">Valley</text>
<text class="lg" x="318.84" y="1109.5" textLength="48.72" lengthAdjust="spacingAndGlyphs">Clean</text>
<text class="lg" x="372.66" y="1109.5" textLength="57.71" lengthAdjust="spacingAndGlyphs">Water)</text>
<text class="lb" x="31.85" y="1135.5" textLength="110.52" lengthAdjust="spacingAndGlyphs">Sacramento,</text>
<text class="lb" x="147.07" y="1135.5" textLength="26.64" lengthAdjust="spacingAndGlyphs">CA</text>
<text class="lg" x="177.68" y="1135.5" textLength="111.66" lengthAdjust="spacingAndGlyphs">(Sacramento</text>
<text class="lg" x="293.51" y="1135.5" textLength="75.15" lengthAdjust="spacingAndGlyphs">Regional</text>
<text class="lg" x="374.46" y="1135.5" textLength="101.87" lengthAdjust="spacingAndGlyphs">Wastewater</text>
<text class="lg" x="480.41" y="1135.5" textLength="88.76" lengthAdjust="spacingAndGlyphs">Treatment</text>
<text class="lg" x="574.22" y="1135.5" textLength="52.34" lengthAdjust="spacingAndGlyphs">Plant)</text>
<text class="lb" x="31.87" y="1161.5" textLength="96.37" lengthAdjust="spacingAndGlyphs">Sunnyvale,</text>
<text class="lb" x="132.86" y="1161.5" textLength="26.10" lengthAdjust="spacingAndGlyphs">CA</text>
<text class="lg" x="163.54" y="1161.5" textLength="40.05" lengthAdjust="spacingAndGlyphs">(City</text>
<text class="lg" x="208.74" y="1161.5" textLength="18.16" lengthAdjust="spacingAndGlyphs">of</text>
<text class="lg" x="231.58" y="1161.5" textLength="88.84" lengthAdjust="spacingAndGlyphs">Sunnyvale</text>
<text class="lg" x="324.71" y="1161.5" textLength="50.59" lengthAdjust="spacingAndGlyphs">Water</text>
<text class="lg" x="380.06" y="1161.5" textLength="77.38" lengthAdjust="spacingAndGlyphs">Pollution</text>
<text class="lg" x="461.47" y="1161.5" textLength="63.87" lengthAdjust="spacingAndGlyphs">Control</text>
<text class="lg" x="530.24" y="1161.5" textLength="52.32" lengthAdjust="spacingAndGlyphs">Plant)</text>
<text class="lb" x="31.87" y="1187.5" textLength="33.68" lengthAdjust="spacingAndGlyphs">San</text>
<text class="lb" x="70.16" y="1187.5" textLength="48.34" lengthAdjust="spacingAndGlyphs">Jose,</text>
<text class="lb" x="122.85" y="1187.5" textLength="26.23" lengthAdjust="spacingAndGlyphs">CA</text>
<text class="lg" x="153.60" y="1187.5" textLength="39.73" lengthAdjust="spacingAndGlyphs">(San</text>
<text class="lg" x="198.41" y="1187.5" textLength="95.78" lengthAdjust="spacingAndGlyphs">Jose-Santa</text>
<text class="lg" x="300.61" y="1187.5" textLength="43.58" lengthAdjust="spacingAndGlyphs">Clara</text>
<text class="lg" x="350.42" y="1187.5" textLength="75.10" lengthAdjust="spacingAndGlyphs">Regional</text>
<text class="lg" x="430.69" y="1187.5" textLength="102.00" lengthAdjust="spacingAndGlyphs">Wastewater</text>
<text class="lg" x="537.20" y="1187.5" textLength="69.41" lengthAdjust="spacingAndGlyphs">Facility)</text>
<text class="lb" x="31.73" y="1213.5" textLength="40.10" lengthAdjust="spacingAndGlyphs">Palo</text>
<text class="lb" x="75.90" y="1213.5" textLength="42.50" lengthAdjust="spacingAndGlyphs">Alto,</text>
<text class="lb" x="122.86" y="1213.5" textLength="26.10" lengthAdjust="spacingAndGlyphs">CA</text>
<text class="lg" x="153.39" y="1213.5" textLength="45.99" lengthAdjust="spacingAndGlyphs">(Palo</text>
<text class="lg" x="204.50" y="1213.5" textLength="34.92" lengthAdjust="spacingAndGlyphs">Alto</text>
<text class="lg" x="244.43" y="1213.5" textLength="74.90" lengthAdjust="spacingAndGlyphs">Regional</text>
<text class="lg" x="324.67" y="1213.5" textLength="50.69" lengthAdjust="spacingAndGlyphs">Water</text>
<text class="lg" x="379.99" y="1213.5" textLength="60.47" lengthAdjust="spacingAndGlyphs">Quality</text>
<text class="lg" x="445.69" y="1213.5" textLength="62.84" lengthAdjust="spacingAndGlyphs">Control</text>
<text class="lg" x="513.26" y="1213.5" textLength="52.46" lengthAdjust="spacingAndGlyphs">Plant)</text>
</svg>
</body></html>
